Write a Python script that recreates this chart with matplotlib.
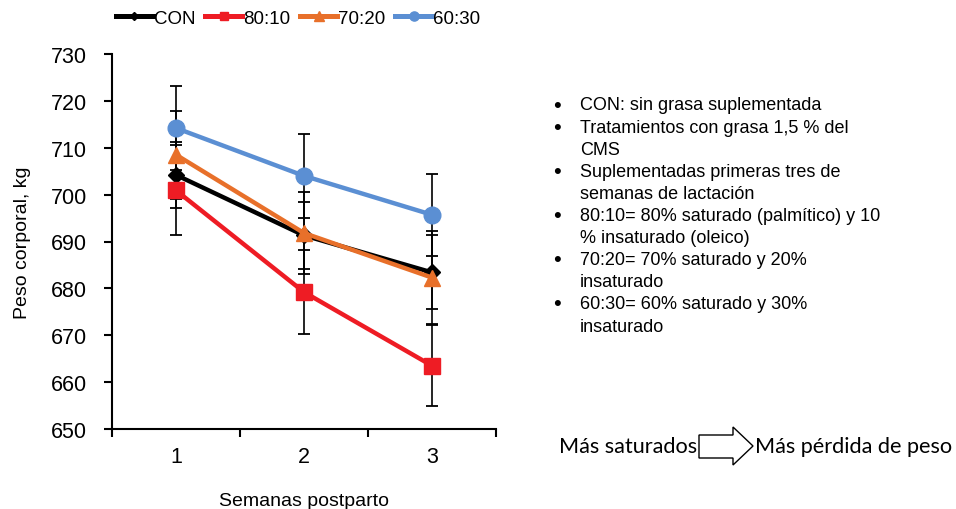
import matplotlib
matplotlib.use("Agg")
import matplotlib.pyplot as plt
from matplotlib.patches import Polygon
from matplotlib.lines import Line2D

plt.rcParams['font.family'] = ['Liberation Sans', 'DejaVu Sans']

# ---- data ----
weeks = [1, 2, 3]
series_names = ["CON", "80:10", "70:20", "60:30"]
con_vals = [704.2, 691.3, 683.4]
con_err = [7.1, 7.2, 7.9]
s8010_vals = [700.9, 679.2, 663.5]
s8010_err = [9.6, 8.9, 8.6]
s7020_vals = [708.5, 691.8, 682.3]
s7020_err = [9.4, 8.8, 10.0]
s6030_vals = [714.2, 704.0, 695.7]
s6030_err = [9.0, 8.9, 8.7]
y_ticks = [650, 660, 670, 680, 690, 700, 710, 720, 730]
x_labels = ["1", "2", "3"]

notes = [
    ("CON: sin grasa suplementada",),
    ("Tratamientos con grasa 1,5 % del", "CMS"),
    ("Suplementadas primeras tres de", "semanas de lactación"),
    ("80:10= 80% saturado (palmítico) y 10", "% insaturado (oleico)"),
    ("70:20= 70% saturado y 20%", "insaturado"),
    ("60:30= 60% saturado y 30%", "insaturado"),
]
left_phrase = "Más saturados"
right_phrase = "Más pérdida de peso"

# ---- style ----
colors = ["#000000", "#EE1C24", "#E8702A", "#5B8FD3"]
markers = ["D", "s", "^", "o"]
msizes = [8, 11, 12, 12]

W, H = 956, 510
fig = plt.figure(figsize=(W / 100, H / 100), dpi=100)
ax = fig.add_axes([112 / W, 1 - 430 / H, (496 - 112) / W, (430 - 55) / H])

vals = [con_vals, s8010_vals, s7020_vals, s6030_vals]
errs = [con_err, s8010_err, s7020_err, s6030_err]

for v, e in zip(vals, errs):
    ax.errorbar(weeks, v, yerr=e, fmt='none', ecolor='black', elinewidth=1.2,
                capsize=4.5, capthick=1.3, zorder=1)

handles = []
for name, v, c, m, ms in zip(series_names, vals, colors, markers, msizes):
    ax.plot(weeks, v, color=c, lw=3.2, marker=m, ms=ms, mfc=c, mec=c, zorder=3)
    handles.append(Line2D([], [], color=c, lw=3.6, marker=m, ms=ms * 0.55, mfc=c, mec=c, label=name))

ax.set_xlim(0.5, 3.5)
ax.set_ylim(650, 730)
ax.set_yticks(y_ticks)
ax.set_yticklabels([str(t) for t in y_ticks], fontsize=15.5)
ax.set_xticks(weeks)
ax.set_xticklabels(x_labels, fontsize=15.5)
ax.tick_params(axis='x', which='major', length=0, pad=12)
ax.set_xticks([0.5, 1.5, 2.5, 3.5], minor=True)
ax.tick_params(axis='x', which='minor', length=6, width=1.5, direction='out')
ax.tick_params(axis='y', which='major', length=6, width=1.5, direction='out', pad=12)
for s in ['top', 'right']:
    ax.spines[s].set_visible(False)
for s in ['left', 'bottom']:
    ax.spines[s].set_linewidth(1.5)

ax.set_ylabel("Peso corporal, kg", fontsize=14, labelpad=14)
ax.set_xlabel("Semanas postparto", fontsize=14, labelpad=18)

fig.legend(handles=handles, loc='center', bbox_to_anchor=(298 / W, 1 - 19 / H), ncol=4,
           frameon=False, fontsize=13.5, handlelength=2.0, handletextpad=0.05,
           columnspacing=0.5, borderaxespad=0)

# notes block
y = 106
step = 22.1
for item in notes:
    fig.text(553 / W, 1 - y / H, "•", fontsize=16, va='center', ha='left')
    for i, line in enumerate(item):
        fig.text(580 / W, 1 - y / H, line, fontsize=13, va='center', ha='left')
        y += step

# bottom phrase with block arrow
fig.text(697 / W, 1 - 447 / H, left_phrase, fontsize=15.6, ha='right', va='center',
         family=['Lato', 'DejaVu Sans'])
fig.text(755 / W, 1 - 447 / H, right_phrase, fontsize=15.6, ha='left', va='center',
         family=['Lato', 'DejaVu Sans'])
arrow_px = [(699, 436), (733, 436), (733, 428), (753, 447), (733, 466), (733, 459), (699, 459)]
arrow_fig = [(x / W, 1 - yy / H) for x, yy in arrow_px]
fig.patches.append(Polygon(arrow_fig, closed=True, fill=False, edgecolor='black', lw=1.0,
                           transform=fig.transFigure, figure=fig))

fig.savefig("out.png", dpi=100)
